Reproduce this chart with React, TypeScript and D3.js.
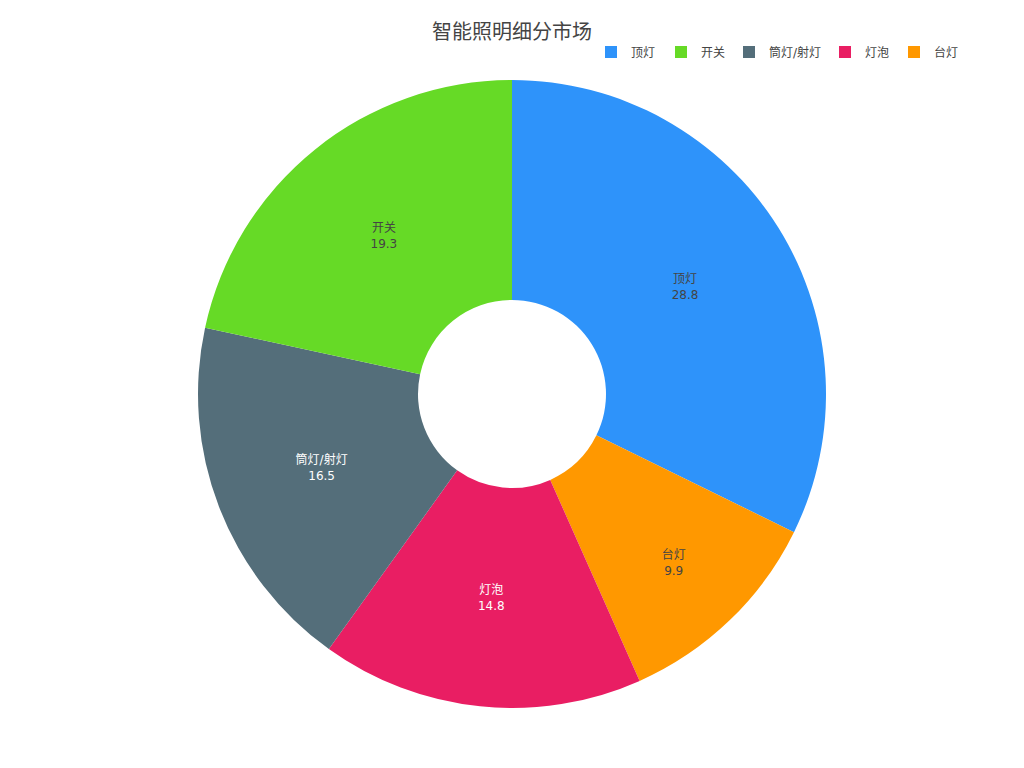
import React from "react";
import { pie, arc, PieArcDatum } from "d3";

const categories = ["顶灯", "台灯", "灯泡", "筒灯/射灯", "开关"];
const values = [28.8, 9.9, 14.8, 16.5, 19.3];
const colors = ["#2E93FA", "#FF9800", "#E91E63", "#546E7A", "#66DA26"];
const legendOrder = ["顶灯", "开关", "筒灯/射灯", "灯泡", "台灯"];
const legendX = [605, 675, 743, 839, 908];

const W = 1024;
const H = 768;
const cx = 512;
const cy = 394;
const outerR = 314;
const innerR = 94;
const font = "'DejaVu Sans', 'Noto Sans CJK SC', sans-serif";

interface Slice {
  name: string;
  value: number;
  color: string;
}

export default function App() {
  const slices: Slice[] = categories.map((name, i) => ({
    name,
    value: values[i],
    color: colors[i],
  }));

  const layout = pie<Slice>()
    .sort(null)
    .value((d) => d.value);
  const arcs = layout(slices);

  const path = arc<PieArcDatum<Slice>>().innerRadius(innerR).outerRadius(outerR);
  const midR = (innerR + outerR) / 2;
  // narrow slices get their label pushed further out
  const labelR = (a: PieArcDatum<Slice>) =>
    a.endAngle - a.startAngle < 0.8 ? midR + 29 : midR;

  // white text on the darker slices
  const darkSlices = ["灯泡", "筒灯/射灯"];

  return (
    <svg
      width={W}
      height={H}
      style={{ position: "absolute", left: 0, top: 0, background: "#fff" }}
      fontFamily={font}
    >
      <g transform={`translate(${cx},${cy})`}>
        {arcs.map((a) => (
          <path key={a.data.name} d={path(a) ?? ""} fill={a.data.color} />
        ))}
        {arcs.map((a) => {
          const r = labelR(a);
          const [x, y] = arc<PieArcDatum<Slice>>().innerRadius(r).outerRadius(r).centroid(a);
          const fill = darkSlices.includes(a.data.name) ? "#fff" : "#444";
          return (
            <text key={a.data.name} x={x} y={y} textAnchor="middle" fontSize={12} fill={fill}>
              <tspan x={x} dy={-3}>
                {a.data.name}
              </tspan>
              <tspan x={x} dy={16}>
                {a.data.value}
              </tspan>
            </text>
          );
        })}
      </g>

      <text x={512} y={39} textAnchor="middle" fontSize={20} fill="#444">
        智能照明细分市场
      </text>

      <g>
        {legendOrder.map((name, i) => {
          const c = colors[categories.indexOf(name)];
          return (
            <g key={name} transform={`translate(${legendX[i]},46)`}>
              <rect x={0} y={0} width={12} height={12} fill={c} />
              <text x={26} y={11} fontSize={12} fill="#444">
                {name}
              </text>
            </g>
          );
        })}
      </g>
    </svg>
  );
}
